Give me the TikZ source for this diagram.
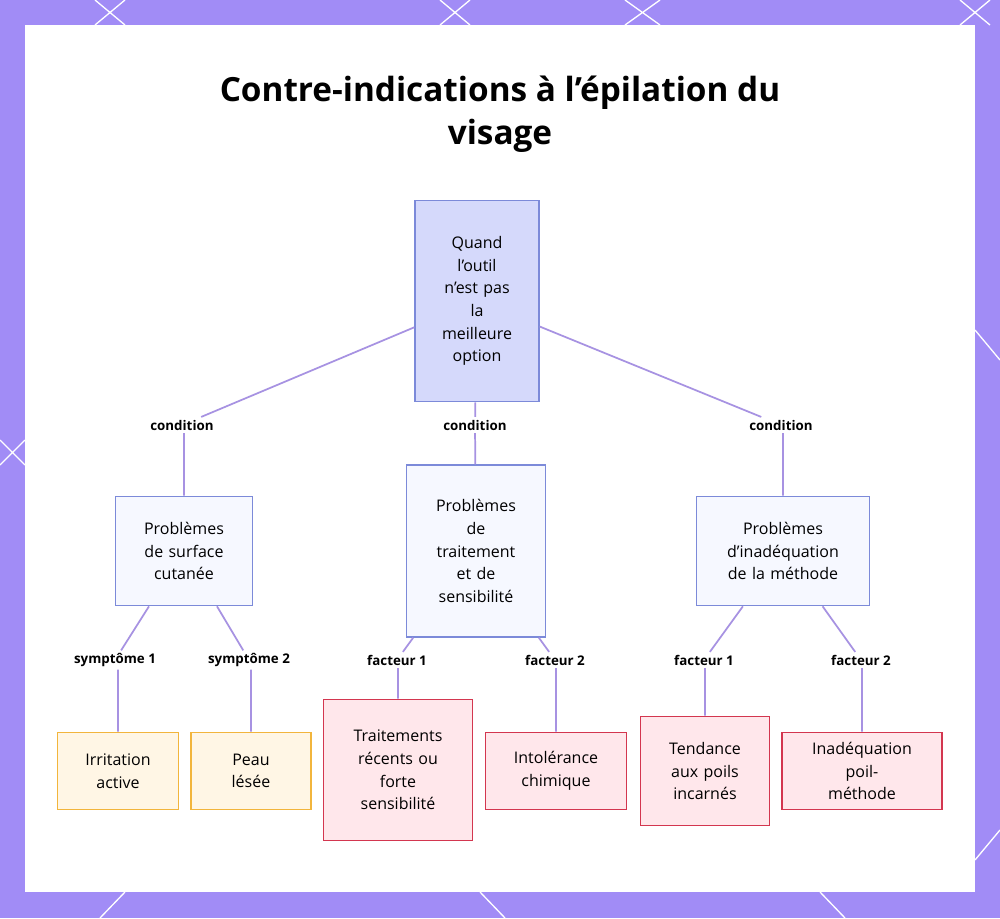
\documentclass[tikz,border=0pt]{standalone}
\usepackage{fontspec}
\setmainfont{Open Sans}[Ligatures=NoCommon]
\usetikzlibrary{positioning}
\newcommand{\ap}{\char39\relax}
\definecolor{frame}{HTML}{A18CF6}
\definecolor{link}{HTML}{A792E2}
\definecolor{rootfill}{HTML}{D5D9FB}
\definecolor{rootline}{HTML}{7C8AD9}
\definecolor{midfill}{HTML}{F6F8FF}
\definecolor{orfill}{HTML}{FFF6E5}
\definecolor{orline}{HTML}{F2B53C}
\definecolor{redfill}{HTML}{FFE7EB}
\definecolor{redline}{HTML}{D3364F}
\tikzset{
  box/.style={draw, line width=1pt, align=center, inner sep=2pt, font=\fontsize{12}{17}\selectfont},
  root/.style={box, fill=rootfill, draw=rootline},
  mid/.style={box, fill=midfill, draw=rootline},
  sym/.style={box, fill=orfill, draw=orline},
  fac/.style={box, fill=redfill, draw=redline},
  tag/.style={fill=white, inner sep=2pt, font=\bfseries\fontsize{10}{12}\selectfont},
  edge/.style={draw=link, line width=1.3pt}
}
\begin{document}
\begin{tikzpicture}[x=0.75pt,y=-0.75pt]
\useasboundingbox (0,0) rectangle (1000,918);
\fill[frame] (0,0) rectangle (1000,918);
\begin{scope}
  \clip (0,0) rectangle (1000,918);
  \foreach \a/\b in {95/125,440/470,625/660,960/990}
    \draw[white, line width=1pt] (\a,0) -- (\b,25) (\b,0) -- (\a,25);
  \draw[white, line width=1pt] (0,440) -- (25,465) (0,465) -- (25,440);
  \draw[white, line width=1pt] (975,330) -- (1000,360) (975,860) -- (1000,830);
  \draw[white, line width=1pt] (100,918) -- (125,892) (480,892) -- (505,918) (820,892) -- (845,918);
\end{scope}
\fill[white] (25,25) rectangle (975,892);

\node[font=\bfseries\fontsize{25}{32}\selectfont, align=center] (title) at (500,114)
  {Contre-indications à l\ap épilation du\\visage};

% top level
\node[root, minimum width=93pt, minimum height=151pt, text width=80pt] (root) at (477,301)
  {Quand\\l\ap outil\\n\ap est pas\\la\\meilleure\\option};

% second level
\node[mid, minimum width=103pt, minimum height=82pt, text width=95pt] (skin) at (184,551)
  {Problèmes\\de surface\\cutanée};
\node[mid, minimum width=104pt, minimum height=129pt, text width=95pt] (treat) at (476,551)
  {Problèmes\\de\\traitement\\et de\\sensibilité};
\node[mid, minimum width=130pt, minimum height=82pt, text width=125pt] (method) at (783,551)
  {Problèmes\\d\ap inadéquation\\de la méthode};

% leaves
\node[sym, minimum width=91pt, minimum height=58pt, text width=85pt] (irrit) at (118,771) {Irritation\\active};
\node[sym, minimum width=90pt, minimum height=58pt, text width=85pt] (skinhurt) at (251,771) {Peau\\lésée};
\node[fac, minimum width=112pt, minimum height=106pt, text width=105pt] (recent) at (398,770)
  {Traitements\\récents ou\\forte\\sensibilité};
\node[fac, minimum width=106pt, minimum height=58pt, text width=100pt] (chem) at (556,771) {Intolérance\\chimique};
\node[fac, minimum width=97pt, minimum height=82pt, text width=92pt] (ingrown) at (705,771)
  {Tendance\\aux poils\\incarnés};
\node[fac, minimum width=120pt, minimum height=58pt, text width=110pt] (mismatch) at (862,771)
  {Inadéquation\\poil-\\méthode};

% labels
\node[tag] (c1) at (182,425) {condition};
\node[tag] (c2) at (475,425) {condition};
\node[tag] (c3) at (781,425) {condition};
\node[tag] (s1) at (115,660) {symptôme 1};
\node[tag] (s2) at (249,660) {symptôme 2};
\node[tag] (f1) at (397,660) {facteur 1};
\node[tag] (f2) at (555,660) {facteur 2};
\node[tag] (f3) at (704,660) {facteur 1};
\node[tag] (f4) at (861,660) {facteur 2};

% connectors
\draw[edge] (root) -- (c1) (c1.south -| skin.north) -- (skin.north);
\draw[edge] (root) -- (c2) -- (treat);
\draw[edge] (root) -- (c3) (c3.south -| method.north) -- (method.north);
\draw[edge] (skin) -- (s1) (s1.south -| irrit.north) -- (irrit.north);
\draw[edge] (skin) -- (s2) (s2.south -| skinhurt.north) -- (skinhurt.north);
\draw[edge] (treat) -- (f1) (f1.south -| recent.north) -- (recent.north);
\draw[edge] (treat) -- (f2) (f2.south -| chem.north) -- (chem.north);
\draw[edge] (method) -- (f3) (f3.south -| ingrown.north) -- (ingrown.north);
\draw[edge] (method) -- (f4) (f4.south -| mismatch.north) -- (mismatch.north);
\end{tikzpicture}
\end{document}
